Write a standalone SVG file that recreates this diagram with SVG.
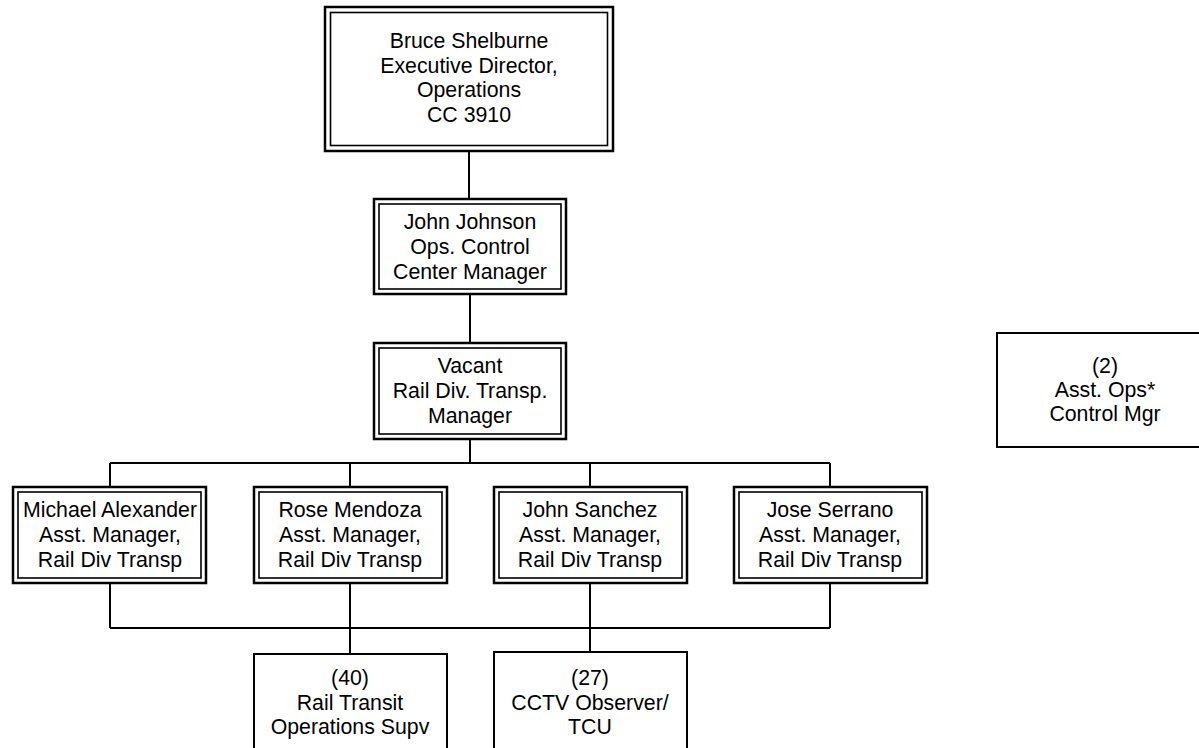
<svg xmlns="http://www.w3.org/2000/svg" width="1199" height="748" viewBox="0 0 1199 748">
<style>
.o{fill:none;stroke:#000;stroke-width:2.5}
.i{fill:none;stroke:#000;stroke-width:1.6}
.s{fill:none;stroke:#000;stroke-width:2}
.c{fill:none;stroke:#000;stroke-width:2}
text{font-family:"Liberation Sans",Arial,sans-serif;font-size:21.3px;fill:#000;text-anchor:middle}
</style>
<rect width="1199" height="748" fill="#fff"/>
<g id="connectors">
<path class="c" d="M469 151V199M470 294V343M470 439V463M110 463H830M110 463V487M350 463V487M590 463V487M830 463V487M110 583V628M350 583V654M590 583V652M830 583V628M110 628H830"/>
</g>
<g id="n1">
<rect class="o" x="325" y="7" width="288" height="144"/>
<rect class="i" x="330.5" y="12.5" width="277" height="133"/>
<text x="469" y="48">Bruce Shelburne</text>
<text x="469" y="72.5">Executive Director,</text>
<text x="469" y="97">Operations</text>
<text x="469" y="121.5">CC 3910</text>
</g>
<g id="n2">
<rect class="o" x="374" y="199" width="192" height="95"/>
<rect class="i" x="379" y="204" width="182" height="85"/>
<text x="470" y="228.5">John Johnson</text>
<text x="470" y="253.5">Ops. Control</text>
<text x="470" y="278.5">Center Manager</text>
</g>
<g id="n3">
<rect class="o" x="374" y="343" width="192" height="96"/>
<rect class="i" x="379" y="348" width="182" height="86"/>
<text x="470" y="373">Vacant</text>
<text x="470" y="398">Rail Div. Transp.</text>
<text x="470" y="423">Manager</text>
</g>
<g id="n4">
<rect class="o" x="13" y="487" width="193" height="96"/>
<rect class="i" x="18" y="492" width="183" height="86"/>
<text x="110" y="517">Michael Alexander</text>
<text x="110" y="542">Asst. Manager,</text>
<text x="110" y="567">Rail Div Transp</text>
</g>
<g id="n5">
<rect class="o" x="254" y="487" width="193" height="96"/>
<rect class="i" x="259" y="492" width="183" height="86"/>
<text x="350" y="517">Rose Mendoza</text>
<text x="350" y="542">Asst. Manager,</text>
<text x="350" y="567">Rail Div Transp</text>
</g>
<g id="n6">
<rect class="o" x="494" y="487" width="193" height="96"/>
<rect class="i" x="499" y="492" width="183" height="86"/>
<text x="590" y="517">John Sanchez</text>
<text x="590" y="542">Asst. Manager,</text>
<text x="590" y="567">Rail Div Transp</text>
</g>
<g id="n7">
<rect class="o" x="734" y="487" width="193" height="96"/>
<rect class="i" x="739" y="492" width="183" height="86"/>
<text x="830" y="517">Jose Serrano</text>
<text x="830" y="542">Asst. Manager,</text>
<text x="830" y="567">Rail Div Transp</text>
</g>
<g id="n8">
<rect class="s" x="254" y="654" width="193" height="100"/>
<text x="350" y="685">(40)</text>
<text x="350" y="709.5">Rail Transit</text>
<text x="350" y="734">Operations Supv</text>
</g>
<g id="n9">
<rect class="s" x="494" y="652" width="193" height="102"/>
<text x="590" y="685">(27)</text>
<text x="590" y="709.5">CCTV Observer/</text>
<text x="590" y="734">TCU</text>
</g>
<g id="n10">
<rect class="s" x="997" y="333" width="216" height="114"/>
<text x="1105" y="373">(2)</text>
<text x="1105" y="397">Asst. Ops*</text>
<text x="1105" y="421">Control Mgr</text>
</g>
</svg>
